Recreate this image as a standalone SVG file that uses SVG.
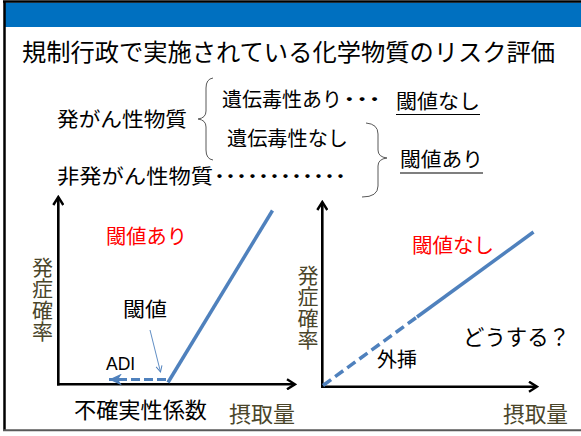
<svg xmlns="http://www.w3.org/2000/svg" width="581" height="436" viewBox="0 0 581 436">
<style>
  .jp { font-family: "Noto Sans CJK JP", "Noto Sans", sans-serif; }
  .t20 { font-size: 20px; fill: #000; }
  .red { fill: #FF0000; }
  .olive { fill: #4A452A; }
  .vert { writing-mode: vertical-rl; font-size: 21px; letter-spacing: 0.4px; }
  .dots { font-weight: bold; }
  .brace { fill: none; stroke: #595959; stroke-width: 1; }
  .axis { stroke: #000; stroke-width: 2.6; fill: none; }
  .blue { stroke: #4F81BD; stroke-width: 3.5; fill: none; }
  .ul { stroke: #000; stroke-width: 1.2; }
</style>
<defs>
  <marker id="axArrow" viewBox="0 0 12 12" refX="10" refY="6" markerWidth="12" markerHeight="12" markerUnits="userSpaceOnUse" orient="auto">
    <path d="M2,1 L10,6 L2,11" fill="none" stroke="#000" stroke-width="2.4"/>
  </marker>
  <marker id="blueArrow" viewBox="0 0 14 12" refX="13" refY="6" markerWidth="14" markerHeight="12" markerUnits="userSpaceOnUse" orient="auto">
    <path d="M0,0 L13,6 L0,12 L4,6 Z" fill="#4F81BD"/>
  </marker>
  <marker id="thinArrow" viewBox="0 0 8 8" refX="7" refY="4" markerWidth="8" markerHeight="8" markerUnits="userSpaceOnUse" orient="auto">
    <path d="M1,1 L7,4 L1,7" fill="none" stroke="#4F81BD" stroke-width="1"/>
  </marker>
</defs>

<!-- frame -->
<g id="frame">
  <rect x="0" y="0" width="581" height="436" fill="#fff"/>
  <rect x="5" y="2.5" width="576" height="24.5" fill="#0070C0"/>
  <line x1="3" y1="1.5" x2="581" y2="1.5" stroke="#000" stroke-width="2.5"/>
  <line x1="4.5" y1="1" x2="4.5" y2="431" stroke="#000" stroke-width="2.5"/>
  <line x1="3" y1="430.3" x2="581" y2="430.3" stroke="#595959" stroke-width="2"/>
</g>

<g id="title">
  <text class="jp" x="22" y="61" font-size="24" textLength="533" lengthAdjust="spacingAndGlyphs">規制行政で実施されている化学物質のリスク評価</text>
</g>

<g id="carcinogen">
  <text class="jp t20" x="57" y="126.5" textLength="130" lengthAdjust="spacingAndGlyphs">発がん性物質</text>
</g>
<g id="non-carcinogen">
  <text class="jp t20" x="57" y="183.5" textLength="156" lengthAdjust="spacingAndGlyphs">非発がん性物質</text>
  <text class="jp t20 dots" x="214" y="183.5" textLength="132" lengthAdjust="spacingAndGlyphs">････････････</text>
</g>
<g id="genotox-yes">
  <text class="jp t20" x="222" y="106.5" textLength="120" lengthAdjust="spacingAndGlyphs">遺伝毒性あり</text>
  <text class="jp t20 dots" x="343" y="106.5" textLength="38" lengthAdjust="spacingAndGlyphs">･･･</text>
</g>
<g id="genotox-no">
  <text class="jp t20" x="227" y="145.5" textLength="121" lengthAdjust="spacingAndGlyphs">遺伝毒性なし</text>
</g>
<g id="no-threshold">
  <text class="jp t20" x="396" y="109" textLength="84" lengthAdjust="spacingAndGlyphs">閾値なし</text>
  <line class="ul" x1="396" y1="114.5" x2="480" y2="114.5"/>
</g>
<g id="threshold">
  <text class="jp t20" x="400" y="166.5" textLength="83" lengthAdjust="spacingAndGlyphs">閾値あり</text>
  <line class="ul" x1="400" y1="173" x2="483" y2="173"/>
</g>

<g id="braces">
  <path class="brace" d="M213,78 Q206,79 206,88 L206,111 Q206,118 198,119 Q206,120 206,127 L206,150 Q206,159 213,160"/>
  <path class="brace" d="M366,123 Q378,124 378,134 L378,150 Q378,157 387,158 Q378,159 378,166 L378,186 Q378,197 362,197"/>
</g>

<!-- left chart -->
<g id="left-chart-labels">
  <text class="jp t20 red" x="106" y="244" textLength="81" lengthAdjust="spacingAndGlyphs">閾値あり</text>
  <text class="jp olive vert" x="42.5" y="256.5">発症確率</text>
  <text class="jp t20" x="123" y="316.5" font-size="21" textLength="44" lengthAdjust="spacingAndGlyphs">閾値</text>
  <text x="106" y="370" font-family="Liberation Sans, Arial, sans-serif" font-size="17.5" fill="#000">ADI</text>
  <text class="jp" x="74" y="418" font-size="22" textLength="133" lengthAdjust="spacingAndGlyphs">不確実性係数</text>
  <text class="jp olive" x="229" y="421.5" font-size="22" textLength="66" lengthAdjust="spacingAndGlyphs">摂取量</text>
</g>

<!-- right chart -->
<g id="right-chart-labels">
  <text class="jp t20 red" x="412" y="252.5" textLength="82" lengthAdjust="spacingAndGlyphs">閾値なし</text>
  <text class="jp olive vert" x="308" y="264.5">発症確率</text>
  <text class="jp t20" x="377" y="367" textLength="40" lengthAdjust="spacingAndGlyphs">外挿</text>
  <text class="jp" x="463" y="344.5" font-size="22" textLength="107" lengthAdjust="spacingAndGlyphs">どうする？</text>
  <text class="jp olive" x="503" y="421.5" font-size="22" textLength="65" lengthAdjust="spacingAndGlyphs">摂取量</text>
</g>

<g id="connectors">
  <!-- left axes -->
  <line class="axis" x1="58.3" y1="385.5" x2="58.3" y2="197" marker-end="url(#axArrow)"/>
  <line class="axis" x1="57" y1="384.3" x2="295" y2="384.3" marker-end="url(#axArrow)"/>
  <!-- left dose response -->
  <line class="blue" x1="168" y1="382.5" x2="272.5" y2="210.5"/>
  <line x1="166" y1="379.5" x2="109" y2="379.5" stroke="#4F81BD" stroke-width="3" stroke-dasharray="9,4" marker-end="url(#blueArrow)"/>
  <line x1="150" y1="330" x2="160.5" y2="372" stroke="#4F81BD" stroke-width="0.9" marker-end="url(#thinArrow)"/>
  <!-- right axes -->
  <line class="axis" x1="322.3" y1="388" x2="322.3" y2="202" marker-end="url(#axArrow)"/>
  <line class="axis" x1="321" y1="386.7" x2="537" y2="386.7" marker-end="url(#axArrow)"/>
  <!-- right dose response -->
  <line x1="323" y1="385.5" x2="417" y2="317" stroke="#4F81BD" stroke-width="3.5" stroke-dasharray="10,5"/>
  <line class="blue" x1="417" y1="317" x2="533.5" y2="232"/>
</g>
</svg>
